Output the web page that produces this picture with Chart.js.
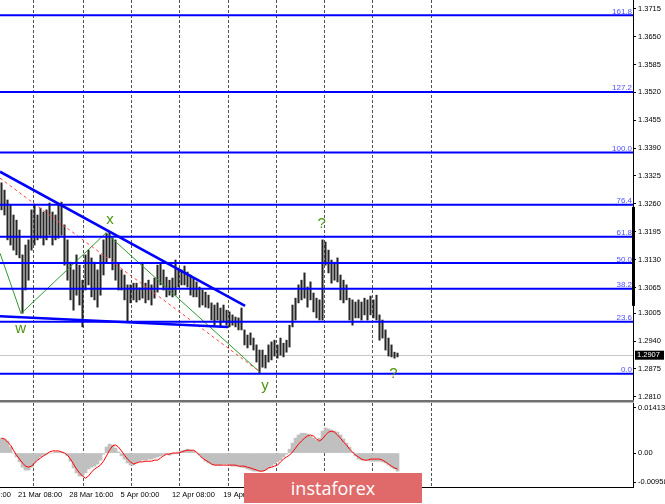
<!DOCTYPE html>
<html>
<head>
<meta charset="utf-8">
<title>H4 chart with MACD</title>
<script src="https://cdn.jsdelivr.net/npm/chart.js@4.4.1/dist/chart.umd.min.js"></script>
<style>
  body { margin: 0; background: #fff; }
  #wrap { position: relative; width: 665px; height: 504px; overflow: hidden; background: #fff; }
  #priceChart { position: absolute; left: 0; top: 0; }
  #oscChart { position: absolute; left: 0; top: 403px; }
  #sep { position: absolute; left: 0; top: 400px; width: 634px; height: 2px; background: #707070; border-bottom: 1px solid #b8b8b8; }
  #logo { position: absolute; left: 244px; top: 473px; width: 178px; height: 30px; background: #e06a6a; color: #fff;
          font: 18px "Open Sans", sans-serif; line-height: 30px; text-align: center; }
</style>
</head>
<body>
<div id="wrap">
  <canvas id="priceChart" width="665" height="404"></canvas>
  <div id="sep"></div>
  <canvas id="oscChart" width="665" height="101"></canvas>
  <div id="logo">instaforex</div>
</div>
<script>
// bar highs / lows, one per H4 bar
var highs = [1.3309,1.3292,1.3269,1.3257,1.3234,1.3222,1.3199,1.3141,1.3164,1.3176,
  1.3246,1.3257,1.3234,1.3250,1.3241,1.3246,1.3262,1.3241,1.3234,1.3257,
  1.3264,1.3211,1.3176,1.3124,1.3106,1.3141,1.3117,1.3082,1.3141,1.3152,
  1.3134,1.3124,1.3106,1.3141,1.3176,1.3192,1.3194,1.3180,1.3176,1.3122,
  1.3106,1.3094,1.3071,1.3071,1.3075,1.3075,1.3064,1.3122,1.3075,1.3082,
  1.3071,1.3087,1.3117,1.3122,1.3106,1.3089,1.3082,1.3087,1.3129,1.3110,
  1.3106,1.3115,1.3101,1.3094,1.3087,1.3078,1.3066,1.3059,1.3054,1.3047,
  1.3029,1.3024,1.3029,1.3017,1.3024,1.3012,1.3008,1.3001,1.2996,1.2994,
  1.3017,1.2966,1.2954,1.2959,1.2947,1.2931,1.2919,1.2919,1.2907,1.2931,
  1.2938,1.2942,1.2931,1.2947,1.2935,1.2942,1.2977,1.3024,1.3040,1.3071,
  1.3082,1.3099,1.3066,1.3078,1.3052,1.3040,1.3036,1.3176,1.3171,1.3152,
  1.3129,1.3124,1.3134,1.3094,1.3082,1.3071,1.3040,1.3036,1.3031,1.3036,
  1.3031,1.3040,1.3036,1.3045,1.3036,1.3047,1.3001,1.2989,1.2966,1.2947,
  1.2931,1.2914,1.2912];
var lows = [1.3246,1.3234,1.3176,1.3164,1.3152,1.3141,1.3134,1.3005,1.3059,1.3082,
  1.3152,1.3164,1.3176,1.3180,1.3164,1.3176,1.3187,1.3164,1.3176,1.3180,
  1.3187,1.3117,1.3082,1.3036,1.3012,1.3047,1.3024,1.2973,1.3059,1.3071,
  1.3043,1.3036,1.3019,1.3047,1.3094,1.3124,1.3134,1.3106,1.3082,1.3059,
  1.3059,1.3036,1.2984,1.3029,1.3036,1.3031,1.3036,1.3040,1.3029,1.3036,
  1.3024,1.3040,1.3054,1.3071,1.3059,1.3043,1.3047,1.3043,1.3047,1.3066,
  1.3071,1.3071,1.3066,1.3047,1.3043,1.3043,1.3019,1.3024,1.3019,1.3017,
  1.2989,1.2977,1.2989,1.2973,1.2984,1.2977,1.2973,1.2977,1.2973,1.2966,
  1.2966,1.2931,1.2924,1.2931,1.2919,1.2891,1.2865,1.2879,1.2877,1.2891,
  1.2896,1.2905,1.2900,1.2907,1.2903,1.2914,1.2926,1.2973,1.2989,1.3029,
  1.3036,1.3040,1.3019,1.3036,1.3008,1.2994,1.2989,1.2989,1.3117,1.3099,
  1.3075,1.3082,1.3078,1.3036,1.3029,1.3036,1.2989,1.2977,1.2994,1.2994,
  1.2989,1.3001,1.2989,1.3001,1.2994,1.2989,1.2942,1.2947,1.2919,1.2905,
  1.2903,1.2900,1.2903];
var lastPrice = 1.2907;

// MACD histogram and signal line
var hist = [0.0042,0.0040,0.0034,0.0017,0,-0.0011,-0.0025,-0.0040,-0.0048,-0.0048,
  -0.0040,-0.0028,-0.0020,-0.0011,-0.0006,-0.0003,0,0,0.0003,0.0003,
  0.0003,0,-0.0008,-0.0023,-0.0042,-0.0056,-0.0065,-0.0065,-0.0056,-0.0045,
  -0.0040,-0.0037,-0.0031,-0.0020,-0.0003,0.0017,0.0025,0.0023,0.0014,0.0003,
  -0.0008,-0.0017,-0.0028,-0.0034,-0.0034,-0.0028,-0.0023,-0.0020,-0.0020,-0.0017,
  -0.0017,-0.0014,-0.0011,-0.0008,-0.0006,-0.0003,-0.0006,-0.0003,0,0.0003,
  0.0006,0.0008,0.0011,0.0008,0.0006,0,-0.0006,-0.0014,-0.0023,-0.0028,
  -0.0031,-0.0034,-0.0034,-0.0034,-0.0031,-0.0031,-0.0034,-0.0037,-0.0037,-0.0037,
  -0.0040,-0.0042,-0.0045,-0.0048,-0.0051,-0.0051,-0.0051,-0.0051,-0.0048,-0.0042,
  -0.0037,-0.0031,-0.0025,-0.0020,-0.0011,-0.0003,0.0011,0.0028,0.0042,0.0051,
  0.0056,0.0056,0.0054,0.0048,0.0042,0.0037,0.0042,0.0062,0.0071,0.0068,
  0.0065,0.0062,0.0059,0.0051,0.0040,0.0028,0.0017,0.0003,-0.0008,-0.0017,
  -0.0020,-0.0020,-0.0020,-0.0023,-0.0023,-0.0023,-0.0023,-0.0025,-0.0028,-0.0034,
  -0.0040,-0.0045,-0.0051];
var signal = [0.0042,0.0040,0.0031,0.0023,0.0008,-0.0006,-0.0017,-0.0028,-0.0037,-0.0040,
  -0.0037,-0.0028,-0.0020,-0.0014,-0.0008,-0.0003,0.0003,0.0006,0.0006,0.0006,
  0.0003,0,-0.0006,-0.0017,-0.0031,-0.0045,-0.0056,-0.0065,-0.0071,-0.0065,
  -0.0054,-0.0045,-0.0040,-0.0034,-0.0023,-0.0008,0.0008,0.0020,0.0023,0.0017,
  0.0006,-0.0006,-0.0017,-0.0025,-0.0031,-0.0028,-0.0025,-0.0025,-0.0023,-0.0023,
  -0.0023,-0.0020,-0.0020,-0.0014,-0.0008,-0.0003,-0.0003,0,0,0,
  0.0003,0.0006,0.0008,0.0008,0.0008,0.0003,-0.0006,-0.0014,-0.0020,-0.0025,
  -0.0031,-0.0034,-0.0034,-0.0034,-0.0034,-0.0034,-0.0034,-0.0034,-0.0034,-0.0037,
  -0.0037,-0.0037,-0.0040,-0.0042,-0.0045,-0.0048,-0.0051,-0.0051,-0.0048,-0.0042,
  -0.0040,-0.0037,-0.0034,-0.0025,-0.0017,-0.0011,-0.0006,0.0003,0.0014,0.0025,
  0.0034,0.0042,0.0048,0.0051,0.0048,0.0040,0.0034,0.0040,0.0051,0.0059,
  0.0062,0.0059,0.0051,0.0042,0.0031,0.0023,0.0011,0.0003,-0.0006,-0.0011,
  -0.0017,-0.0020,-0.0020,-0.0017,-0.0017,-0.0017,-0.0017,-0.0020,-0.0025,-0.0031,
  -0.0037,-0.0042,-0.0045];

// axes
var priceTicks = [1.3715,1.3650,1.3585,1.3520,1.3455,1.3390,1.3325,1.3260,1.3195,1.3130,1.3065,1.3005,1.2940,1.2875,1.2810];
var oscTickLabels = ['0.01413', '0.00', '-0.00958'];
var timeLabels = ['14 Mar 00:00','21 Mar 08:00','28 Mar 16:00','5 Apr 00:00','12 Apr 08:00','19 Apr 16:00','27 Apr 00:00','4 May 08:00','11 May 16:00'];
var timeLabelX = [-11.6, 5.5, 22.6, 39.7, 56.8, 73.9, 91.0, 108.1, 125.2];
var gridX = [10.8, 27.2, 43.2, 59.2, 75.5, 91.5, 107.5, 123.8, 143.2];

// fibonacci levels
var fibLabels = ['0.0','23.6','38.2','50.0','61.8','76.4','100.0','127.2','161.8'];
var fibPrices = [1.2864,1.2985,1.3062,1.3122,1.3183,1.3258,1.3380,1.3521,1.3700];

// drawn objects (bar index, price)
var upperTrend = [{x:-0.5, y:1.3335}, {x:81.2, y:1.3022}];
var lowerTrend = [{x:-0.5, y:1.2998}, {x:75.5, y:1.2973}];
var redChannel = [{x:-0.5, y:1.3320}, {x:86.2, y:1.2868}];
var waveLine = [{x:-0.5, y:1.3145}, {x:6.5, y:1.3004}, {x:34.8, y:1.3192}, {x:86.2, y:1.2867}];
var waveText = ['w', 'x', 'y', '?', '?'];
var waveX = [6.4, 36.2, 87.8, 106.7, 130.6];
var waveY = [1.2959, 1.3213, 1.2826, 1.3204, 1.2854];
var scaleBand = [1.3022, 1.3253];

var xMin = -0.5, xMax = 210.5;
var priceMin = 1.28025, priceMax = 1.37355;
var oscMin = -0.00958, oscMax = 0.01413;

Chart.defaults.font.family = '"Liberation Sans", Arial, sans-serif';
Chart.defaults.color = '#000';

function noPad(s) {
    s.paddingLeft = 0; s.paddingRight = 0; s.paddingTop = 0; s.paddingBottom = 0;
}

function flat(p) {
    return [{x: xMin, y: p}, {x: xMax, y: p}];
}

function lineSet(data, color, width, dash) {
    return {type: 'line', data: data, borderColor: color, borderWidth: width, borderDash: dash || [],
        pointRadius: 0, tension: 0, fill: false, order: 1};
}

var overlay = {
    id: 'overlay',
    beforeDatasetsDraw(chart) {
        const {ctx, chartArea: a, scales: {y}} = chart;
        const py = Math.round(y.getPixelForValue(lastPrice)) + 0.5;
        ctx.save();
        ctx.strokeStyle = '#c8c8c8';
        ctx.lineWidth = 1;
        ctx.beginPath();
        ctx.moveTo(a.left, py);
        ctx.lineTo(a.right, py);
        ctx.stroke();
        ctx.restore();
    },
    afterDatasetsDraw(chart) {
        const {ctx, chartArea: a, scales: {x, y}} = chart;
        ctx.save();
        ctx.font = '8px "Liberation Sans", Arial, sans-serif';
        ctx.fillStyle = '#5050ff';
        ctx.textAlign = 'right';
        ctx.textBaseline = 'alphabetic';
        fibPrices.forEach(function (p, i) {
            ctx.fillText(fibLabels[i], a.right - 1, y.getPixelForValue(p) - 1.5);
        });
        ctx.font = '15px "Liberation Sans", Arial, sans-serif';
        ctx.fillStyle = '#4f9414';
        ctx.textAlign = 'center';
        waveText.forEach(function (t, i) {
            ctx.fillText(t, x.getPixelForValue(waveX[i]), y.getPixelForValue(waveY[i]));
        });
        ctx.restore();
    },
    afterDraw(chart) {
        const {ctx, chartArea: a, scales: {y}} = chart;
        ctx.save();
        const t = y.getPixelForValue(scaleBand[1]);
        const b = y.getPixelForValue(scaleBand[0]);
        ctx.fillStyle = '#000';
        ctx.fillRect(a.right - 1, t, 3, b - t);
        const py = y.getPixelForValue(lastPrice);
        ctx.fillRect(a.right + 2, py - 4.5, 29, 9);
        ctx.fillStyle = '#fff';
        ctx.font = '7.5px "Liberation Sans", Arial, sans-serif';
        ctx.textBaseline = 'middle';
        ctx.fillText(lastPrice.toFixed(4), a.right + 4, py);
        ctx.restore();
    }
};

var priceDatasets = fibPrices.map(function (p) { return lineSet(flat(p), '#0000ff', 2); });
priceDatasets.push(lineSet(upperTrend, '#0000ff', 2.5));
priceDatasets.push(lineSet(lowerTrend, '#0000ff', 2.5));
priceDatasets.push(lineSet(redChannel, '#ff4040', 1, [3, 3]));
priceDatasets.push(lineSet(waveLine, '#2f9a2f', 1));
priceDatasets.push({
    type: 'bar',
    data: highs.map(function (h, i) { return {x: i, y: [lows[i], h]}; }),
    backgroundColor: '#262626',
    barThickness: 1.4,
    order: 5
});

new Chart(document.getElementById('priceChart'), {
    type: 'bar',
    data: {datasets: priceDatasets},
    options: {
        responsive: false,
        animation: false,
        events: [],
        layout: {padding: 0},
        plugins: {legend: {display: false}, tooltip: {enabled: false}},
        scales: {
            x: {
                type: 'linear', position: 'bottom', min: xMin, max: xMax, offset: false,
                afterBuildTicks: function (s) { s.ticks = gridX.map(function (v) { return {value: v}; }); },
                ticks: {display: false},
                grid: {color: '#505050', drawTicks: false, offset: false},
                border: {display: false, dash: [3, 2]},
                afterFit: function (s) { s.height = 4; noPad(s); }
            },
            y: {
                type: 'linear', position: 'right', min: priceMin, max: priceMax,
                afterBuildTicks: function (s) { s.ticks = priceTicks.map(function (v) { return {value: v}; }); },
                ticks: {autoSkip: false, padding: 2, font: {size: 7.5}, callback: function (v) { return v.toFixed(4); }},
                grid: {drawOnChartArea: false, drawTicks: true, tickLength: 3, color: '#000'},
                border: {display: true, color: '#000'},
                afterFit: function (s) { s.width = 32; noPad(s); }
            }
        }
    },
    plugins: [overlay]
});

var oscInset = 0.0014;

new Chart(document.getElementById('oscChart'), {
    type: 'bar',
    data: {
        datasets: [
            {type: 'line', data: signal.map(function (v, i) { return {x: i, y: v}; }), borderColor: '#ff0000',
                borderWidth: 1, pointRadius: 0, tension: 0, order: 0},
            {type: 'bar', data: hist.map(function (v, i) { return {x: i, y: v}; }), backgroundColor: '#c0c0c0',
                barPercentage: 1, categoryPercentage: 1, borderWidth: 0, order: 1}
        ]
    },
    options: {
        responsive: false,
        animation: false,
        events: [],
        layout: {padding: 0},
        plugins: {legend: {display: false}, tooltip: {enabled: false}},
        scales: {
            xg: {
                type: 'linear', position: 'top', min: xMin, max: xMax, offset: false,
                afterBuildTicks: function (s) { s.ticks = gridX.map(function (v) { return {value: v}; }); },
                ticks: {display: false},
                grid: {color: '#505050', drawTicks: false, offset: false},
                border: {display: false, dash: [3, 2]},
                afterFit: function (s) { s.height = 0; noPad(s); }
            },
            x: {
                type: 'linear', position: 'bottom', min: xMin, max: xMax, offset: false,
                afterBuildTicks: function (s) { s.ticks = timeLabelX.map(function (v) { return {value: v}; }); },
                ticks: {autoSkip: false, maxRotation: 0, align: 'start', padding: 3, font: {size: 7.5},
                    callback: function (v, i) { return timeLabels[i]; }},
                grid: {display: false, drawTicks: false, offset: false},
                border: {display: true, color: '#000'},
                afterFit: function (s) { s.height = 17; noPad(s); }
            },
            y: {
                type: 'linear', position: 'right', min: oscMin, max: oscMax,
                afterBuildTicks: function (s) {
                    s.ticks = [{value: oscMax - oscInset}, {value: 0}, {value: oscMin + oscInset}];
                },
                ticks: {autoSkip: false, padding: 2, font: {size: 7.5}, callback: function (v, i) { return oscTickLabels[i]; }},
                grid: {drawOnChartArea: false, drawTicks: true, tickLength: 3, color: '#000'},
                border: {display: true, color: '#000'},
                afterFit: function (s) { s.width = 32; noPad(s); }
            }
        }
    }
});
</script>
</body>
</html>
